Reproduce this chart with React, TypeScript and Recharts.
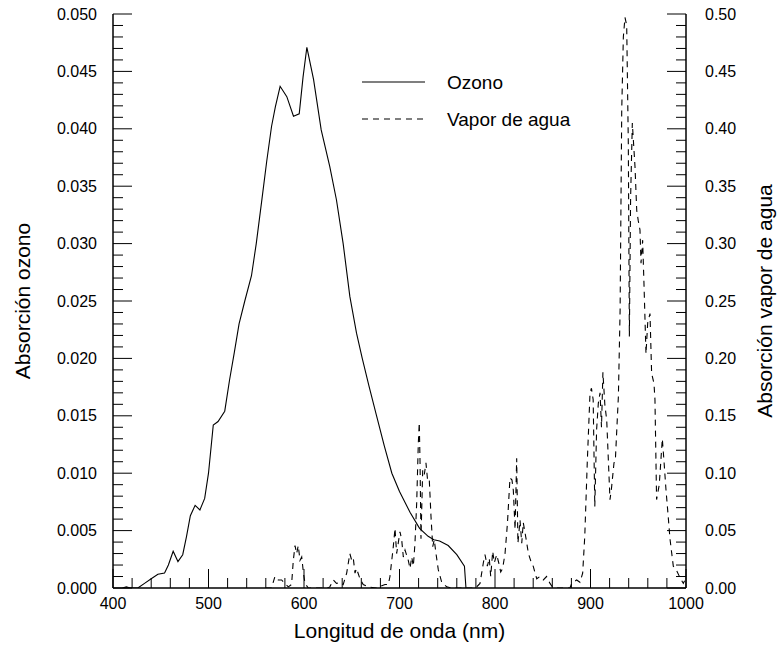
import React from "react";
import { ComposedChart, Line, XAxis, YAxis, Legend } from "recharts";

// ozone absorption (left axis)
const ozoneWl = [
  410, 414, 418, 426, 433, 440, 447, 454, 458, 463, 468, 473, 477, 481, 486, 491,
  496, 500, 505, 510, 517, 522, 527, 532, 538, 545, 550, 556, 561, 566, 570, 575,
  582, 589, 595, 599, 603, 610, 618, 627, 634, 641, 648, 655, 661, 668, 676, 684,
  692, 700, 711, 721, 730, 736, 742, 751, 760, 768, 769.6,
];
const ozoneAbs = [
  0, 0.0001, 0, 0, 0.0004, 0.0008, 0.0012, 0.0013, 0.002, 0.0032, 0.0023, 0.0029,
  0.0045, 0.0063, 0.0072, 0.0068, 0.0078, 0.01, 0.0142, 0.0145, 0.0154, 0.0181,
  0.0205, 0.023, 0.025, 0.0272, 0.03, 0.0339, 0.0372, 0.0402, 0.0419, 0.0437,
  0.0428, 0.0411, 0.0413, 0.0445, 0.0471, 0.0443, 0.0399, 0.0367, 0.0338, 0.03,
  0.0254, 0.0222, 0.02, 0.0176, 0.015, 0.0124, 0.01, 0.0084, 0.0066, 0.0052,
  0.0045, 0.0042, 0.0041, 0.0037, 0.0029, 0.0019, 0,
];

// water vapour absorption (right axis)
const vaporWl = [
  560, 566, 569.6, 573, 576.6, 580, 583.6, 587, 588.8, 590.6, 592.3, 594, 595.8,
  597.6, 599.3, 601, 604.5, 625, 627, 630.7, 634, 637.7, 641, 644.7, 648, 650,
  651.6, 653.4, 655, 658.6, 662, 667.3, 675, 684.8, 688.3, 690, 693.5, 695.3, 697,
  700.5, 702.3, 704, 705.8, 709.2, 711, 712.8, 714.5, 716.2, 718, 719.7, 720.7,
  721.5, 722.5, 724.3, 726, 727.7, 729.5, 731.2, 733, 734.8, 736.4, 738.2, 740.6,
  744.2, 749.4, 755, 780, 780.8, 784.3, 787.8, 789.5, 792, 794, 795.5, 797.6,
  799.3, 801.8, 803.9, 806, 808, 810.5, 813, 815.7, 817.8, 819.2, 821, 822.7, 824,
  826.2, 828, 829.6, 832.5, 835, 837.7, 840, 843.7, 847, 850.6, 854, 857.6, 860,
  865, 878.5, 880.3, 885.5, 889, 891.8, 894, 896.6, 899.5, 901, 902.8, 904.5,
  906.4, 908.2, 910, 911.5, 913, 915, 917, 920.4, 922, 924.6, 926, 929.2, 931,
  932.7, 934.4, 936.1, 937.9, 939.6, 940.7, 942, 943.8, 944.9, 946.6, 948.4, 950,
  951.8, 952.9, 954.6, 956, 958.1, 959.9, 962.3, 964, 966.5, 967.5, 969.2, 972,
  975.2, 977, 979, 981.4, 983.2, 986.7, 990.3, 993.7, 997.2, 1000,
];
const vaporAbs = [
  0, 0, 0.01, 0.007, 0.007, 0.004, 0.001, 0.003, 0.024, 0.037, 0.03, 0.037, 0.024,
  0.027, 0.014, 0.004, 0, 0, 0.001, 0.007, 0.004, 0.005, 0.003, 0.013, 0.03, 0.024,
  0.026, 0.013, 0.017, 0.008, 0.003, 0.001, 0, 0.003, 0.003, 0.01, 0.036, 0.052,
  0.03, 0.049, 0.042, 0.027, 0.033, 0.024, 0.017, 0.027, 0.019, 0.039, 0.074,
  0.126, 0.144, 0.11, 0.043, 0.103, 0.099, 0.109, 0.093, 0.094, 0.062, 0.036,
  0.042, 0.03, 0.016, 0.005, 0.001, 0, 0, 0.001, 0.004, 0.022, 0.029, 0.019,
  0.026, 0.01, 0.032, 0.022, 0.029, 0.022, 0.014, 0.017, 0.03, 0.056, 0.096,
  0.094, 0.085, 0.051, 0.113, 0.039, 0.059, 0.039, 0.057, 0.043, 0.03, 0.023,
  0.019, 0.008, 0.01, 0.007, 0.01, 0.004, 0.001, 0, 0, 0.004, 0.007, 0.005, 0.013,
  0.045, 0.109, 0.17, 0.174, 0.164, 0.071, 0.138, 0.161, 0.17, 0.14, 0.188, 0.16,
  0.146, 0.077, 0.087, 0.109, 0.111, 0.167, 0.242, 0.416, 0.48, 0.497, 0.49,
  0.387, 0.219, 0.34, 0.405, 0.39, 0.367, 0.329, 0.32, 0.312, 0.283, 0.303, 0.265,
  0.204, 0.231, 0.239, 0.187, 0.178, 0.164, 0.077, 0.09, 0.13, 0.11, 0.086, 0.062,
  0.043, 0.019, 0.015, 0.009, 0.004, 0.009,
];

const xMajor = [400, 500, 600, 700, 800, 900, 1000];
const ozoneMajor = [0, 0.005, 0.01, 0.015, 0.02, 0.025, 0.03, 0.035, 0.04, 0.045, 0.05];
const vaporMajor = [0, 0.05, 0.1, 0.15, 0.2, 0.25, 0.3, 0.35, 0.4, 0.45, 0.5];

const INK = "#000";
const FONT = "'Liberation Sans', Arial, Helvetica, sans-serif";

function withMinor(major: number[], parts: number) {
  const out: number[] = [];
  major.forEach((v, i) => {
    out.push(v);
    if (i < major.length - 1) {
      const step = (major[i + 1] - v) / parts;
      for (let k = 1; k < parts; k++) out.push(+(v + step * k).toFixed(6));
    }
  });
  return out;
}

const isMajor = (list: number[], v: number) => list.some((m) => Math.abs(m - v) < 1e-9);

const xTicks = withMinor(xMajor, 5);
const ozoneTicks = withMinor(ozoneMajor, 5);
const vaporTicks = withMinor(vaporMajor, 5);

const ozoneData = ozoneWl.map((wl, i) => ({ wl, ozone: ozoneAbs[i] }));
const vaporData = vaporWl.map((wl, i) => ({ wl, vapor: vaporAbs[i] }));

function BottomTick({ x, y, payload }: any) {
  const major = isMajor(xMajor, payload.value);
  return (
    <g>
      <line x1={x} x2={x} y1={y} y2={y - (major ? 19 : 10)} stroke={INK} />
      {major && (
        <text x={x} y={y + 10} dy="0.71em" textAnchor="middle" fontSize={16} fill={INK} fontFamily={FONT}>
          {payload.value}
        </text>
      )}
    </g>
  );
}

function TopTick({ x, y, payload }: any) {
  const major = isMajor(xMajor, payload.value);
  return <line x1={x} x2={x} y1={y} y2={y + (major ? 19 : 10)} stroke={INK} />;
}

function LeftTick({ x, y, payload }: any) {
  const major = isMajor(ozoneMajor, payload.value);
  return (
    <g>
      <line x1={x} x2={x + (major ? 19 : 10)} y1={y} y2={y} stroke={INK} />
      {major && (
        <text x={x - 16} y={y} dy="0.35em" textAnchor="end" fontSize={16} fill={INK} fontFamily={FONT}>
          {payload.value.toFixed(3)}
        </text>
      )}
    </g>
  );
}

function RightTick({ x, y, payload }: any) {
  const major = isMajor(vaporMajor, payload.value);
  return (
    <g>
      <line x1={x} x2={x - (major ? 19 : 10)} y1={y} y2={y} stroke={INK} />
      {major && (
        <text x={x + 19} y={y} dy="0.35em" textAnchor="start" fontSize={16} fill={INK} fontFamily={FONT}>
          {payload.value.toFixed(2)}
        </text>
      )}
    </g>
  );
}

function LegendBox() {
  return (
    <svg width={260} height={76} style={{ display: "block", overflow: "visible" }}>
      <line x1={0} x2={63} y1={15} y2={15} stroke={INK} strokeWidth={1.1} />
      <text x={85} y={15} dy="0.35em" fontSize={19} fill={INK} fontFamily={FONT}>
        Ozono
      </text>
      <line x1={0} x2={63} y1={52} y2={52} stroke={INK} strokeWidth={1.1} strokeDasharray="6 5" />
      <text x={85} y={52} dy="0.35em" fontSize={19} fill={INK} fontFamily={FONT}>
        Vapor de agua
      </text>
    </svg>
  );
}

const axisLine = { stroke: INK, strokeWidth: 1.5 };

export default function App() {
  return (
    <div style={{ position: "absolute", left: 0, top: 0, background: "#fff" }}>
      <ComposedChart
        width={781}
        height={646}
        margin={{ top: 14, right: 0, bottom: 0, left: 0 }}
        style={{ fontFamily: FONT }}
      >
        <XAxis
          xAxisId="b"
          dataKey="wl"
          type="number"
          domain={[400, 1000]}
          allowDataOverflow
          ticks={xTicks}
          interval={0}
          height={58}
          tickSize={0}
          tickMargin={0}
          tickLine={false}
          axisLine={axisLine}
          tick={<BottomTick />}
          label={{ value: "Longitud de onda (nm)", position: "insideBottom", offset: 8, fontSize: 21, fill: INK }}
        />
        <XAxis
          xAxisId="t"
          orientation="top"
          dataKey="wl"
          type="number"
          domain={[400, 1000]}
          allowDataOverflow
          ticks={xTicks}
          interval={0}
          height={0}
          tickSize={0}
          tickMargin={0}
          tickLine={false}
          axisLine={axisLine}
          tick={<TopTick />}
        />
        <YAxis
          yAxisId="o"
          type="number"
          domain={[0, 0.05]}
          allowDataOverflow
          ticks={ozoneTicks}
          interval={0}
          width={113}
          tickSize={0}
          tickMargin={0}
          tickLine={false}
          axisLine={axisLine}
          tick={<LeftTick />}
          label={{ value: "Absorción ozono", angle: -90, position: "center", dx: -34, fontSize: 21, fill: INK }}
        />
        <YAxis
          yAxisId="v"
          orientation="right"
          type="number"
          domain={[0, 0.5]}
          allowDataOverflow
          ticks={vaporTicks}
          interval={0}
          width={95}
          tickSize={0}
          tickMargin={0}
          tickLine={false}
          axisLine={axisLine}
          tick={<RightTick />}
          label={{ value: "Absorción vapor de agua", angle: -90, position: "center", dx: 31, fontSize: 21, fill: INK }}
        />
        <Line
          data={ozoneData}
          dataKey="ozone"
          xAxisId="b"
          yAxisId="o"
          type="linear"
          stroke={INK}
          strokeWidth={1.1}
          dot={false}
          activeDot={false}
          isAnimationActive={false}
        />
        <Line
          data={vaporData}
          dataKey="vapor"
          xAxisId="b"
          yAxisId="v"
          type="linear"
          stroke={INK}
          strokeWidth={1.1}
          strokeDasharray="6 5"
          dot={false}
          activeDot={false}
          isAnimationActive={false}
        />
        <Legend
          verticalAlign="middle"
          align="center"
          layout="horizontal"
          wrapperStyle={{ left: 362, top: 67, width: 260, height: 76 }}
          content={() => <LegendBox />}
        />
      </ComposedChart>
    </div>
  );
}
